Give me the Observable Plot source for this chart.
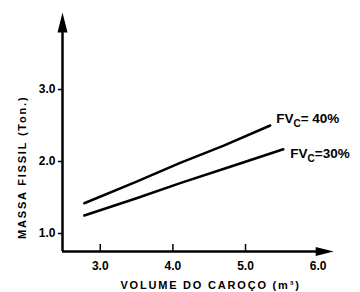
<!DOCTYPE html>
<html><head><meta charset="utf-8">
<script src="https://cdn.jsdelivr.net/npm/d3@7"></script>
<script src="https://cdn.jsdelivr.net/npm/@observablehq/plot@0.6"></script>
<style>body{margin:0;background:#fff}</style>
</head><body><div id="chart"></div>
<script>
const xDomain = [2.48, 6.17];
const yDomain = [0.75, 4.07];
const xTicks = [3, 4, 5, 6];
const yTicks = [1, 2, 3];
const series40X = [2.78, 3.5, 4.1, 4.7, 5.34];
const series40Y = [1.42, 1.72, 1.98, 2.22, 2.5];
const series30X = [2.78, 3.5, 4.1, 4.8, 5.52];
const series30Y = [1.25, 1.49, 1.70, 1.93, 2.17];
const label40 = "FVC= 40%";
const label30 = "FVC=30%";
const xLabel = "VOLUME DO CAROÇO (m³)";
const yLabel = "MASSA FISSIL (Ton.)";
const xArrowAt = 6.09, yArrowAt = 3.93, yLabelAt = 1.92;

const s40 = series40X.map((x, i) => ({x, y: series40Y[i]}));
const s30 = series30X.map((x, i) => ({x, y: series30Y[i]}));
const font = "Liberation Sans, Arial, sans-serif";

// elongated filled arrowhead pointing up
const arrowHead = {
  draw(ctx, size) {
    const r = Math.sqrt(size / Math.PI);
    ctx.moveTo(0, -r);
    ctx.lineTo(r * 0.5, r);
    ctx.lineTo(-r * 0.5, r);
    ctx.closePath();
  }
};

const chart = Plot.plot({
  width: 360, height: 292,
  marginLeft: 62, marginRight: 30, marginTop: 12, marginBottom: 41,
  style: {fontFamily: font, background: "#fff", color: "#000"},
  x: {domain: xDomain},
  y: {domain: yDomain},
  marks: [
    Plot.axisX({ticks: xTicks, tickFormat: d3.format(".1f"), tickSize: 0, tickPadding: 10, fontSize: 12, fontWeight: "bold", label: null}),
    Plot.axisY({ticks: yTicks, tickFormat: d3.format(".1f"), tickSize: 4, tickPadding: 3, strokeWidth: 1.5, fontSize: 12, fontWeight: "bold", label: null}),
    Plot.tickX(xTicks.slice(0, 3), {x: d => d, insetTop: 232, strokeWidth: 1.5}),
    Plot.ruleY([yDomain[0]], {x1: xDomain[0], x2: xArrowAt, strokeWidth: 2.5}),
    Plot.ruleX([xDomain[0]], {y1: yDomain[0], y2: yArrowAt, strokeWidth: 2.5}),
    Plot.dot([0], {x: xArrowAt, y: yDomain[0], symbol: arrowHead, r: 9, rotate: 90, fill: "#000", stroke: null}),
    Plot.dot([0], {x: xDomain[0], y: yArrowAt, symbol: arrowHead, r: 10, fill: "#000", stroke: null}),
    Plot.line(s40, {x: "x", y: "y", strokeWidth: 2.5, stroke: "#000"}),
    Plot.line(s30, {x: "x", y: "y", strokeWidth: 2.5, stroke: "#000"}),
    Plot.text([s40[s40.length - 1]], {x: "x", y: "y", text: () => label40, textAnchor: "start", dx: 6, dy: -7, fontSize: 13.5, fontWeight: "bold"}),
    Plot.text([s30[s30.length - 1]], {x: "x", y: "y", text: () => label30, textAnchor: "start", dx: 7, dy: 4, fontSize: 13.5, fontWeight: "bold"}),
    Plot.text([xLabel], {frameAnchor: "bottom", textAnchor: "middle", dx: 14, dy: 37, fontSize: 11, fontWeight: "bold"}),
    Plot.text([yLabel], {frameAnchor: "left", y: () => yLabelAt, rotate: -90, textAnchor: "middle", lineAnchor: "middle", dx: -40, fontSize: 11, fontWeight: "bold"})
  ]
});

d3.select(chart).selectAll("text").each(function () {
  const t = this.textContent;
  if (t.startsWith("FVC")) {
    const rest = t.slice(3);
    this.textContent = "";
    const s = d3.select(this);
    s.append("tspan").text("FV");
    s.append("tspan").attr("dy", 4).attr("font-size", 10).text("C");
    s.append("tspan").attr("dy", -4).text(rest);
  }
  if (t === xLabel || t === yLabel) this.setAttribute("letter-spacing", "1.8");
});
document.getElementById("chart").appendChild(chart);
</script>
</body></html>
